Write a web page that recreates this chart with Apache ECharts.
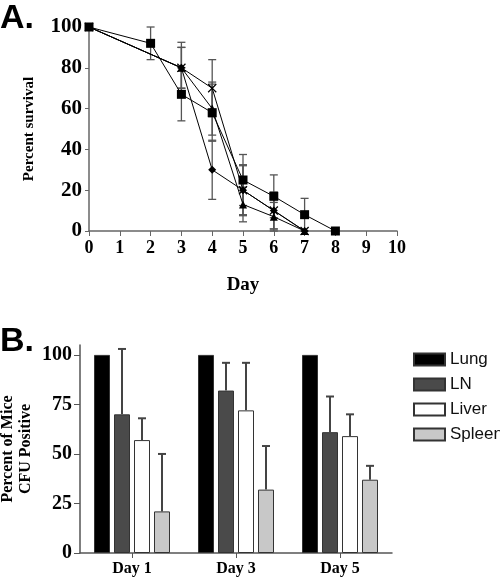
<!DOCTYPE html>
<html><head><meta charset="utf-8">
<script src="https://cdn.jsdelivr.net/npm/echarts@6/dist/echarts.min.js"></script>
<style>html,body{margin:0;padding:0;background:#fff}#c{width:500px;height:579px}</style>
</head><body><div id="c"></div>
<script>
// Panel A: survival
const dayTicks = [0,1,2,3,4,5,6,7,8,9,10];
const daysSquare = [0,2,3,4,5,6,7,8];
const survSquare = [100,92,67,58,25,17,8,0];
const errSquare  = [0,8,13,14,12.5,10.5,8,0];
const daysCross = [0,3,4,5,6,7];
const survCross = [100,80,70,20,10,0];
const errCross  = [0,12.5,14,12.5,9,0];
const daysDiamond = [0,3,4,5,6,7];
const survDiamond = [100,80,30,20,10,0];
const errDiamond  = [0,10,14.5,12,9,0];
const daysTriangle = [0,3,4,5,6,7];
const survTriangle = [100,80,60,13,7,0];
const errTriangle  = [0,10,13,8.5,7,0];

// Panel B: CFU positive
const dayCats = ['Day 1','Day 3','Day 5'];
const organs = ['Lung','LN','Liver','Spleen'];
const lungVals = [100,100,100];
const lnVals = [70,82,61];
const liverVals = [57,72,59];
const spleenVals = [21,32,37];
const lungErr = [0,0,0];
const lnErr = [33,14,18];
const liverErr = [11,24,11];
const spleenErr = [29,22,7];
const yTicksB = [0,25,50,75,100];

const serif = 'Liberation Serif';
const sans = 'Liberation Sans';

function pts(d, v){ return d.map((x,i)=>[x, v[i]]); }
function errPts(d, v, e){ return d.map((x,i)=>[x, v[i], e[i]]).filter(p=>p[2]>0); }

const xShape = 'path://M0,1L1,0L5,4L9,0L10,1L6,5L10,9L9,10L5,6L1,10L0,9L4,5Z';

const allErr = [].concat(
  errPts(daysSquare, survSquare, errSquare),
  errPts(daysCross, survCross, errCross),
  errPts(daysDiamond, survDiamond, errDiamond),
  errPts(daysTriangle, survTriangle, errTriangle)
);

function errRenderA(params, api){
  const x = api.value(0), y = api.value(1), e = api.value(2);
  const lo = Math.max(0, y - e), hi = y + e;
  const p1 = api.coord([x, lo]), p2 = api.coord([x, hi]);
  const w = 4;
  const st = {stroke:'#555', lineWidth:1.3};
  return {type:'group', children:[
    {type:'line', shape:{x1:p1[0],y1:p1[1],x2:p2[0],y2:p2[1]}, style:st},
    {type:'line', shape:{x1:p1[0]-w,y1:p1[1],x2:p1[0]+w,y2:p1[1]}, style:st},
    {type:'line', shape:{x1:p2[0]-w,y1:p2[1],x2:p2[0]+w,y2:p2[1]}, style:st}
  ]};
}

const valsB = [lungVals, lnVals, liverVals, spleenVals];
const errsB = [lungErr, lnErr, liverErr, spleenErr];
const errDataB = [];
valsB.forEach((arr, s) => arr.forEach((v, c) => { if (errsB[s][c] > 0) errDataB.push([c, s, v, errsB[s][c]]); }));

function errRenderB(params, api){
  const c = api.value(0), s = api.value(1), v = api.value(2), e = api.value(3);
  const p1 = api.coord([c, v]), p2 = api.coord([c, v + e]);
  const off = (s - 1.5) * 20;
  const x = p1[0] + off;
  const w = 4;
  const st = {stroke:'#444', lineWidth:2};
  return {type:'group', children:[
    {type:'line', shape:{x1:x,y1:p1[1],x2:x,y2:p2[1]}, style:st},
    {type:'line', shape:{x1:x-w,y1:p2[1],x2:x+w,y2:p2[1]}, style:st}
  ]};
}

const lineBase = {type:'line', xAxisIndex:0, yAxisIndex:0, lineStyle:{color:'#000', width:1}, itemStyle:{color:'#000'}, z:3};
const barColors = ['#000000','#4a4a4a','#ffffff','#c8c8c8'];

const chart = echarts.init(document.getElementById('c'), null, {renderer:'canvas'});
chart.setOption({
  animation:false,
  graphic:[
    {type:'text', left:0, top:2, style:{text:'A.', font:'bold 34px "Liberation Sans"', fill:'#000'}},
    {type:'text', left:0, top:325, style:{text:'B.', font:'bold 34px "Liberation Sans"', fill:'#000'}}
  ],
  legend:{
    orient:'vertical', left:413, top:351, padding:0, itemWidth:31, itemHeight:12, itemGap:8,
    data:organs, icon:'rect',
    textStyle:{fontFamily:sans, fontSize:17, color:'#111'}
  },
  grid:[
    {left:89, top:27, width:308, height:204, outerBoundsMode:'none', containLabel:false},
    {left:80, top:345, width:312, height:208, outerBoundsMode:'none', containLabel:false}
  ],
  xAxis:[
    {gridIndex:0, type:'value', min:0, max:10, interval:1,
     axisLine:{lineStyle:{color:'#666', width:1.5}},
     axisTick:{show:true, length:5, lineStyle:{color:'#666'}},
     splitLine:{show:false},
     axisLabel:{fontFamily:serif, fontWeight:'bold', fontSize:18, color:'#000', margin:8},
     name:'Day', nameLocation:'middle', nameGap:45,
     nameTextStyle:{fontFamily:serif, fontWeight:'bold', fontSize:19, color:'#000'}},
    {gridIndex:1, type:'category', data:dayCats,
     axisLine:{lineStyle:{color:'#555', width:1.5}},
     axisTick:{show:true, alignWithLabel:true, length:5, lineStyle:{color:'#555'}},
     axisLabel:{fontFamily:serif, fontWeight:'bold', fontSize:16, color:'#000', margin:8}}
  ],
  yAxis:[
    {gridIndex:0, type:'value', min:0, max:100, interval:20,
     axisLine:{show:true, lineStyle:{color:'#666', width:1.5}},
     axisTick:{show:true, length:4, lineStyle:{color:'#666'}},
     splitLine:{show:false},
     axisLabel:{fontFamily:serif, fontWeight:'bold', fontSize:21, color:'#000', margin:7},
     name:'Percent survival', nameLocation:'middle', nameGap:52,
     nameTextStyle:{fontFamily:serif, fontWeight:'bold', fontSize:15, color:'#000'}},
    {gridIndex:1, type:'value', min:0, max:105,
     axisLine:{show:true, lineStyle:{color:'#555', width:1.5}},
     axisTick:{show:true, length:6, lineStyle:{color:'#555'}, customValues:yTicksB},
     splitLine:{show:false},
     axisLabel:{fontFamily:serif, fontWeight:'bold', fontSize:20, color:'#000', margin:8, customValues:yTicksB},
     name:'Percent of Mice\nCFU Positive', nameLocation:'middle', nameGap:45, nameMoveOverlap:false,
     nameTextStyle:{fontFamily:serif, fontWeight:'bold', fontSize:16, color:'#000', lineHeight:18}}
  ],
  series:[
    {type:'custom', xAxisIndex:0, yAxisIndex:0, renderItem:errRenderA, data:allErr, z:2, silent:true},
    Object.assign({}, lineBase, {name:'sq', data:pts(daysSquare, survSquare), symbol:'rect', symbolSize:9,
      showAllSymbol:true}),
    Object.assign({}, lineBase, {name:'cross', data:pts(daysCross, survCross), symbol:xShape, symbolSize:9}),
    Object.assign({}, lineBase, {name:'diamond', data:pts(daysDiamond, survDiamond), symbol:'diamond', symbolSize:8}),
    Object.assign({}, lineBase, {name:'tri', data:pts(daysTriangle, survTriangle), symbol:'triangle', symbolSize:8}),
    {name:'Lung', type:'bar', xAxisIndex:1, yAxisIndex:1, data:lungVals, barWidth:16, barGap:'25%',
     itemStyle:{color:barColors[0], borderColor:'#333', borderWidth:1}},
    {name:'LN', type:'bar', xAxisIndex:1, yAxisIndex:1, data:lnVals, barWidth:16, barGap:'25%',
     itemStyle:{color:barColors[1], borderColor:'#333', borderWidth:1}},
    {name:'Liver', type:'bar', xAxisIndex:1, yAxisIndex:1, data:liverVals, barWidth:16, barGap:'25%',
     itemStyle:{color:barColors[2], borderColor:'#333', borderWidth:1}},
    {name:'Spleen', type:'bar', xAxisIndex:1, yAxisIndex:1, data:spleenVals, barWidth:16, barGap:'25%',
     itemStyle:{color:barColors[3], borderColor:'#333', borderWidth:1}},
    {type:'custom', xAxisIndex:1, yAxisIndex:1, renderItem:errRenderB, data:errDataB, z:4, silent:true}
  ]
});
</script></body></html>
